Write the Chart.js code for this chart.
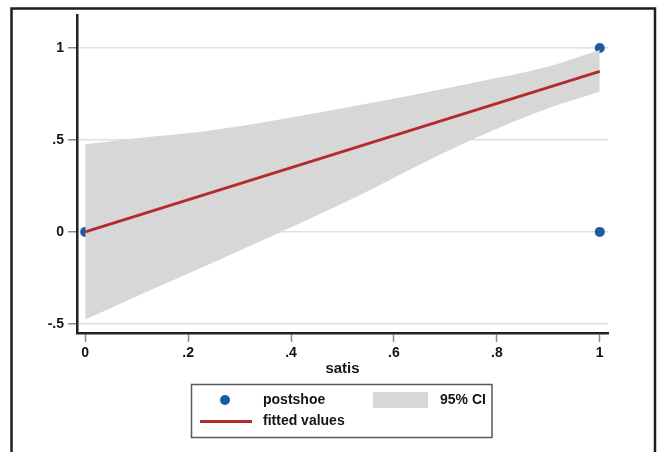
<!DOCTYPE html>
<html>
<head>
<meta charset="utf-8">
<script src="https://cdn.jsdelivr.net/npm/chart.js@4/dist/chart.umd.min.js"></script>
<style>
  html, body { margin: 0; padding: 0; background: #ffffff; }
  canvas { display: block; }
</style>
</head>
<body>
<canvas id="chart" width="659" height="452"></canvas>
<script>
// Observed outcome against satisfaction
const satis    = [0, 1, 1];
const postshoe = [0, 1, 0];

// Linear fit
const fitX = [0, 1];
const fitY = [0, 0.873];

// 95% confidence band around the fit
const ciX     = [0, 0.1, 0.25, 0.5, 0.75, 0.9, 1];
const ciUpper = [0.477, 0.51, 0.555, 0.673, 0.809, 0.90, 0.99];
const ciLower = [-0.477, -0.35, -0.165, 0.155, 0.50, 0.673, 0.763];

// Axis ticks
const xTicks = [0, 0.2, 0.4, 0.6, 0.8, 1];
const xTickLabels = ['0', '.2', '.4', '.6', '.8', '1'];
const yTicks = [-0.5, 0, 0.5, 1];
const yTickLabels = ['-.5', '0', '.5', '1'];

const xTitle = 'satis';
const seriesNames = { points: 'postshoe', fit: 'fitted values', band: '95% CI' };

const FONT = '"Liberation Sans", Arial, Helvetica, sans-serif';
const DOT_BLUE = '#1d5c9c';
const FIT_RED = '#b52a2e';
const BAND_GREY = '#d8d7d7';
const GRID_BLUE = '#cfe5ee';

const pts = (xs, ys) => xs.map((x, i) => ({ x: x, y: ys[i] }));
const labelFor = (vals, labels) => (v) => {
  const i = vals.findIndex(t => Math.abs(t - v) < 1e-9);
  return i >= 0 ? labels[i] : '';
};

// Outer frame behind everything
const framePlugin = {
  id: 'frame',
  beforeDraw(chart) {
    const ctx = chart.ctx;
    ctx.save();
    ctx.fillStyle = '#ffffff';
    ctx.fillRect(0, 0, chart.width, chart.height);
    ctx.strokeStyle = '#1e1e1e';
    ctx.lineWidth = 2.5;
    ctx.strokeRect(11.5, 8.5, 643.5, chart.height + 20);
    ctx.restore();
  }
};

// Boxed two-column key under the plot
const keyPlugin = {
  id: 'key',
  afterDraw(chart) {
    const ctx = chart.ctx;
    const ds = chart.data.datasets;
    const fit = ds[0], band = ds[1], dots = ds[3];
    ctx.save();
    ctx.strokeStyle = '#5a5a5a';
    ctx.lineWidth = 1.5;
    ctx.strokeRect(191.5, 384.5, 300.5, 53);

    // markers
    ctx.fillStyle = dots.backgroundColor;
    ctx.beginPath();
    ctx.arc(225, 400, 5, 0, Math.PI * 2);
    ctx.fill();

    ctx.strokeStyle = fit.borderColor;
    ctx.lineWidth = 3;
    ctx.beginPath();
    ctx.moveTo(200, 421.5);
    ctx.lineTo(252, 421.5);
    ctx.stroke();

    ctx.fillStyle = band.backgroundColor;
    ctx.fillRect(373, 392, 55, 16);

    // texts
    ctx.fillStyle = '#141414';
    ctx.font = 'bold 14px ' + FONT;
    ctx.textBaseline = 'middle';
    ctx.textAlign = 'left';
    ctx.fillText(dots.label, 263, 400);
    ctx.fillText(fit.label, 263, 421);
    ctx.fillText(band.label, 440, 400);
    ctx.restore();
  }
};

new Chart(document.getElementById('chart'), {
  type: 'scatter',
  data: {
    datasets: [
      {
        label: seriesNames.fit,
        data: pts(fitX, fitY),
        showLine: true,
        borderColor: FIT_RED,
        borderWidth: 2.8,
        pointRadius: 0,
        fill: false,
        order: 0
      },
      {
        label: seriesNames.band,
        data: pts(ciX, ciUpper),
        showLine: true,
        borderWidth: 0,
        borderColor: 'rgba(0,0,0,0)',
        backgroundColor: BAND_GREY,
        pointRadius: 0,
        cubicInterpolationMode: 'monotone',
        fill: '+1',
        order: 1
      },
      {
        label: 'lower bound',
        data: pts(ciX, ciLower),
        showLine: true,
        borderWidth: 0,
        borderColor: 'rgba(0,0,0,0)',
        pointRadius: 0,
        cubicInterpolationMode: 'monotone',
        fill: false,
        order: 2
      },
      {
        label: seriesNames.points,
        data: pts(satis, postshoe),
        showLine: false,
        pointRadius: 5,
        pointBorderWidth: 0,
        backgroundColor: DOT_BLUE,
        borderColor: DOT_BLUE,
        order: 3
      }
    ]
  },
  options: {
    responsive: false,
    animation: false,
    events: [],
    layout: { padding: { left: 0, right: 51, top: 15, bottom: 74 } },
    plugins: {
      legend: { display: false },
      tooltip: { enabled: false },
      title: { display: false }
    },
    scales: {
      x: {
        type: 'linear',
        min: -0.016,
        max: 1.016,
        afterBuildTicks: (s) => { s.ticks = xTicks.map(v => ({ value: v })); },
        afterFit: (s) => { s.height = 45; },
        ticks: {
          callback: labelFor(xTicks, xTickLabels),
          color: '#141414',
          font: { family: FONT, size: 14, weight: 'bold' },
          padding: 3,
          maxRotation: 0,
          autoSkip: false
        },
        grid: {
          drawOnChartArea: false,
          drawTicks: true,
          tickLength: 9,
          tickColor: '#8a8a8a',
          tickWidth: 1.5
        },
        border: { display: true, color: '#222222', width: 2.5 },
        title: {
          display: true,
          text: xTitle,
          color: '#141414',
          font: { family: FONT, size: 15, weight: 'bold' },
          padding: { top: 0, bottom: 0 }
        }
      },
      y: {
        type: 'linear',
        min: -0.55,
        max: 1.18,
        afterBuildTicks: (s) => { s.ticks = yTicks.map(v => ({ value: v })); },
        afterFit: (s) => { s.width = 77; },
        ticks: {
          callback: labelFor(yTicks, yTickLabels),
          color: '#141414',
          font: { family: FONT, size: 14, weight: 'bold' },
          padding: 4,
          autoSkip: false
        },
        grid: {
          color: GRID_BLUE,
          lineWidth: 1.5,
          drawTicks: true,
          tickLength: 9,
          tickColor: '#8a8a8a',
          tickWidth: 1.5
        },
        border: { display: true, color: '#222222', width: 2.5 }
      }
    }
  },
  plugins: [framePlugin, keyPlugin]
});
</script>
</body>
</html>
